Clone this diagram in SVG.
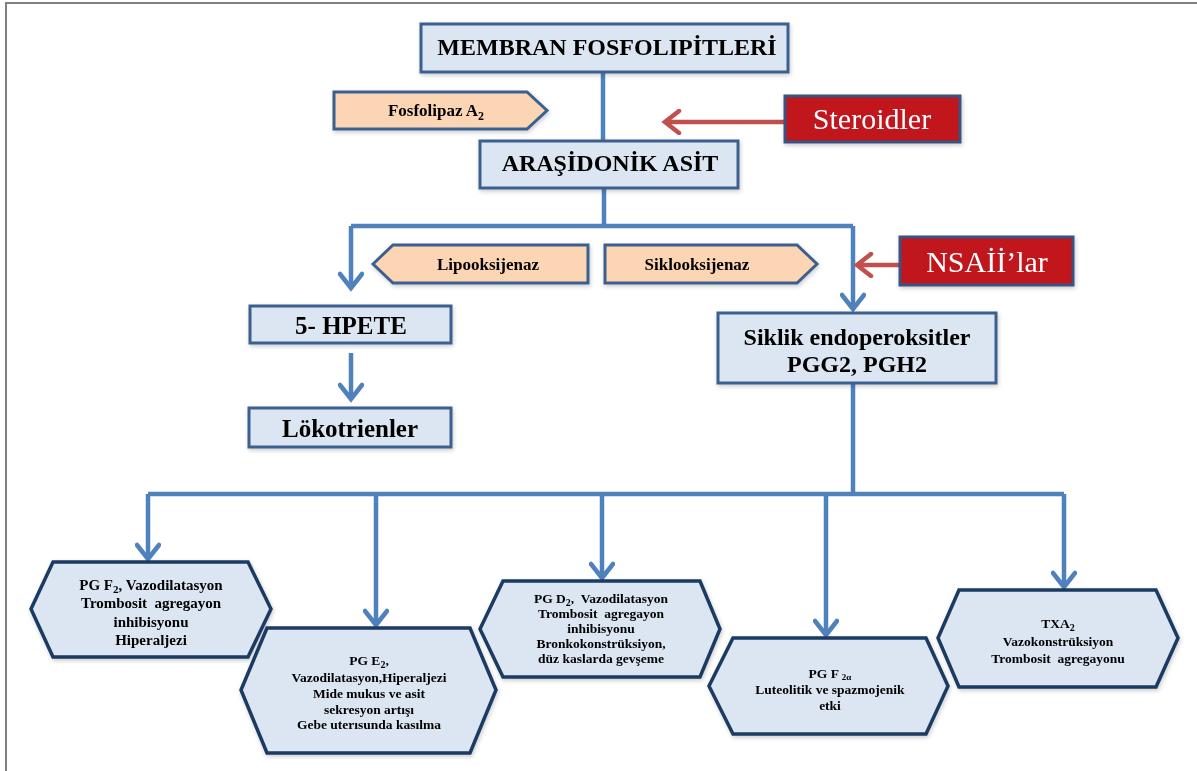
<svg xmlns="http://www.w3.org/2000/svg" width="1197" height="771" viewBox="0 0 1197 771">
<defs>
<style>
.box{fill:#dce6f2;stroke:#3b6190;stroke-width:3}
.hex{fill:#dce6f2;stroke:#1c3a63;stroke-width:3.5;stroke-linejoin:miter}
.enz{fill:#fcd5b4;stroke:#3b6190;stroke-width:3}
.red{fill:#c0141e;stroke:#3a5282;stroke-width:3}
.con{fill:none;stroke:#4f81bd;stroke-width:4.5}
.inh{fill:none;stroke:#c0504d;stroke-width:4.5}
.t{font-family:"Liberation Serif","Times New Roman",serif;font-weight:bold;fill:#000;text-anchor:middle}
.big{font-size:24px}
.big2{font-size:25px}
.enzt{font-size:17px}
.md{font-size:15px}
.sm{font-size:13.5px}
.wt{font-family:"Liberation Serif","Times New Roman",serif;font-size:30px;fill:#fff;text-anchor:middle}
</style>
<marker id="ab" viewBox="0 0 22 26" refX="18" refY="13" markerWidth="22" markerHeight="26" markerUnits="userSpaceOnUse" orient="auto">
<path d="M4,2 L18,13 L4,24" fill="none" stroke="#4f81bd" stroke-width="4.5" stroke-linecap="round"/>
</marker>
<marker id="ar" viewBox="0 0 22 26" refX="18" refY="13" markerWidth="22" markerHeight="26" markerUnits="userSpaceOnUse" orient="auto">
<path d="M4,2 L18,13 L4,24" fill="none" stroke="#c0504d" stroke-width="4.5" stroke-linecap="round"/>
</marker>
<filter id="sh" x="-10%" y="-20%" width="120%" height="140%">
<feDropShadow dx="1" dy="2" stdDeviation="2" flood-color="#000" flood-opacity="0.2"/>
</filter>
</defs>
<rect width="1197" height="771" fill="#fff"/>
<polyline points="6,771 6,3 1197,3" fill="none" stroke="#808080" stroke-width="2"/>

<g id="connectors">
<path class="con" d="M603,72 V141"/>
<path class="con" d="M604,188 V226"/>
<path class="con" d="M351,226 H853"/>
<path class="con" d="M351,226 V288" marker-end="url(#ab)"/>
<path class="con" d="M853,226 V309" marker-end="url(#ab)"/>
<path class="con" d="M351,353 V399" marker-end="url(#ab)"/>
<path class="con" d="M853,383 V494"/>
<path class="con" d="M148,494 H1064"/>
<path class="con" d="M148,494 V559" marker-end="url(#ab)"/>
<path class="con" d="M376,494 V625" marker-end="url(#ab)"/>
<path class="con" d="M602,494 V578" marker-end="url(#ab)"/>
<path class="con" d="M826,494 V635" marker-end="url(#ab)"/>
<path class="con" d="M1064,494 V587" marker-end="url(#ab)"/>
<path class="inh" d="M785,122 H665" marker-end="url(#ar)"/>
<path class="inh" d="M900,265 H857" marker-end="url(#ar)"/>
</g>

<g id="membran" filter="url(#sh)">
<rect class="box" x="421" y="24" width="367" height="48"/>
<text class="t big" x="607" y="55">MEMBRAN FOSFOLIPİTLERİ</text>
</g>
<g id="fosfolipaz" filter="url(#sh)">
<polygon class="enz" points="334,92 527,92 547,110.5 527,129 334,129"/>
<text class="t enzt" x="436" y="116">Fosfolipaz A<tspan font-size="12" dy="4">2</tspan></text>
</g>
<g id="steroidler" filter="url(#sh)">
<rect class="red" x="785" y="96" width="175" height="46"/>
<text class="wt" x="872" y="129">Steroidler</text>
</g>
<g id="arasidonik" filter="url(#sh)">
<rect class="box" x="480" y="141" width="258" height="47"/>
<text class="t big" x="610" y="171">ARAŞİDONİK ASİT</text>
</g>
<g id="lipooksijenaz" filter="url(#sh)">
<polygon class="enz" points="373,264 393,245 588,245 588,283 393,283"/>
<text class="t enzt" x="488" y="270">Lipooksijenaz</text>
</g>
<g id="siklooksijenaz" filter="url(#sh)">
<polygon class="enz" points="605,245 797,245 817,264 797,283 605,283"/>
<text class="t enzt" x="697" y="270">Siklooksijenaz</text>
</g>
<g id="nsaiilar" filter="url(#sh)">
<rect class="red" x="900" y="237" width="173" height="48"/>
<text class="wt" x="987" y="272">NSAİİ’lar</text>
</g>
<g id="hpete" filter="url(#sh)">
<rect class="box" x="250" y="306" width="201" height="37"/>
<text class="t big2" x="351" y="334">5- HPETE</text>
</g>
<g id="lokotrienler" filter="url(#sh)">
<rect class="box" x="249" y="408" width="202" height="39"/>
<text class="t big2" x="350" y="437">Lökotrienler</text>
</g>
<g id="siklik" filter="url(#sh)">
<rect class="box" x="718" y="313" width="278" height="70"/>
<text class="t big" x="857" y="345">Siklik endoperoksitler</text>
<text class="t big" x="857" y="372">PGG2, PGH2</text>
</g>

<g id="pgf2" filter="url(#sh)">
<polygon class="hex" points="31,609 53,562 248,562 271,609 248,657 53,657"/>
<text class="t md" x="151" y="590">PG F<tspan font-size="11" dy="3">2</tspan><tspan dy="-3">, Vazodilatasyon</tspan></text>
<text class="t md" x="151" y="608" xml:space="preserve">Trombosit  agregayon</text>
<text class="t md" x="151" y="627">inhibisyonu</text>
<text class="t md" x="151" y="645">Hiperaljezi</text>
</g>
<g id="pge2" filter="url(#sh)">
<polygon class="hex" points="241,690 267,628 470,628 496,690 470,753 267,753"/>
<text class="t sm" x="369" y="665">PG E<tspan font-size="10" dy="3">2</tspan><tspan dy="-3">,</tspan></text>
<text class="t sm" x="369" y="682">Vazodilatasyon,Hiperaljezi</text>
<text class="t sm" x="369" y="698">Mide mukus ve asit</text>
<text class="t sm" x="369" y="714">sekresyon artışı</text>
<text class="t sm" x="369" y="729">Gebe uterısunda kasılma</text>
</g>
<g id="pgd2" filter="url(#sh)">
<polygon class="hex" points="480,629 503,581 700,581 720,629 700,677 503,677"/>
<text class="t sm" x="601" y="603" xml:space="preserve">PG D<tspan font-size="10" dy="3">2</tspan><tspan dy="-3">,  Vazodilatasyon</tspan></text>
<text class="t sm" x="601" y="618" xml:space="preserve">Trombosit  agregayon</text>
<text class="t sm" x="601" y="633">inhibisyonu</text>
<text class="t sm" x="601" y="648">Bronkokonstrüksiyon,</text>
<text class="t sm" x="601" y="663">düz kaslarda gevşeme</text>
</g>
<g id="pgf2a" filter="url(#sh)">
<polygon class="hex" points="709,686 733,638 926,638 948,686 926,734 733,734"/>
<text class="t sm" x="830" y="678">PG F <tspan font-size="9" dy="2">2α</tspan></text>
<text class="t sm" x="830" y="694">Luteolitik ve spazmojenik</text>
<text class="t sm" x="830" y="710">etki</text>
</g>
<g id="txa2" filter="url(#sh)">
<polygon class="hex" points="938,638 959,590 1156,590 1178,638 1156,687 959,687"/>
<text class="t sm" x="1058" y="628">TXA<tspan font-size="10" dy="3">2</tspan></text>
<text class="t sm" x="1058" y="646">Vazokonstrüksiyon</text>
<text class="t sm" x="1058" y="663" xml:space="preserve">Trombosit  agregayonu</text>
</g>
</svg>
